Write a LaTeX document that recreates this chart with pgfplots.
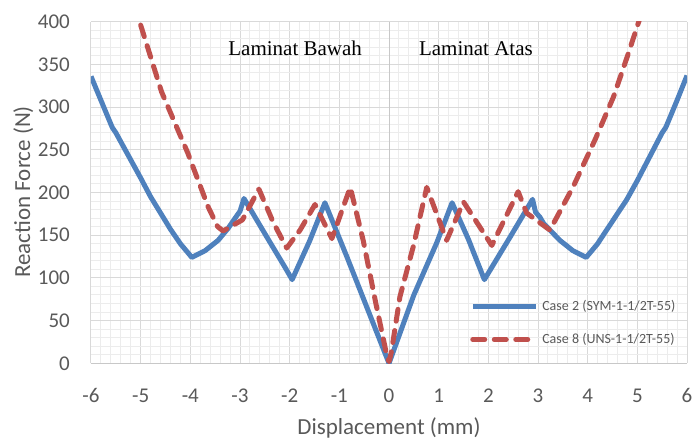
\documentclass[border=0pt]{standalone}
\usepackage{fontspec}
\setmainfont{Carlito}
\newfontfamily\timesfont{Liberation Serif}
\usepackage{pgfplots}
\pgfplotsset{compat=1.18}

\definecolor{xlblue}{RGB}{79,129,189}
\definecolor{xlred}{RGB}{192,80,77}
\definecolor{ticktext}{RGB}{89,89,89}
\definecolor{majgrid}{RGB}{217,217,217}
\definecolor{mingrid}{RGB}{236,236,236}
\definecolor{axline}{RGB}{200,200,200}

\begin{document}
\begin{tikzpicture}
\useasboundingbox (-91pt,-76.7pt) rectangle (605pt,363.3pt);
\begin{axis}[
    at={(0pt,0pt)}, anchor=south west,
    scale only axis,
    width=596pt, height=341.6pt,
    xmin=-6, xmax=6, ymin=0, ymax=400,
    xtick={-6,-5,-4,-3,-2,-1,0,1,2,3,4,5,6},
    xticklabels={-6,-5,-4,-3,-2,-1,0,1,2,3,4,5,6},
    ytick={0,50,100,150,200,250,300,350,400},
    minor x tick num=4, minor y tick num=4,
    grid=both,
    major grid style={majgrid, line width=1pt},
    minor grid style={mingrid, line width=1pt},
    axis line style={draw=none},
    major tick length=0pt, minor tick length=0pt,
    /pgf/number format/assume math mode=true,
    tick label style={font=\fontsize{21}{21}\selectfont, text=ticktext, inner sep=0pt},
    xticklabel style={anchor=base, yshift=-39pt},
    yticklabel style={anchor=east, xshift=-21pt},
    xlabel={Displacement (mm)},
    ylabel={Reaction Force (N)},
    label style={font=\fontsize{23}{23}\selectfont, text=ticktext},
    xlabel style={at={(axis description cs:0.5,-0.207)}, anchor=base},
    ylabel style={at={(axis description cs:-0.102,0.5015)}, anchor=base},
    legend cell align=left,
    legend image code/.code={\draw[#1] (0pt,0pt) -- (63pt,0pt);},
    legend style={at={(axis description cs:0.636,0.19)}, anchor=north west,
        draw=none, fill=none, font=\fontsize{14}{14}\selectfont, text=ticktext,
        row sep=17.3pt, inner sep=0pt,
        nodes={inner xsep=4pt}},
]

% axis lines (Excel draws the value axis at x = 0)
\draw[axline, line width=1.2pt] (axis cs:-6,0) -- (axis cs:6,0);
\draw[axline, line width=1pt] (axis cs:0,0) -- (axis cs:0,400);

% Case 2 - symmetric laminate
\addplot[xlblue, line width=5pt, line join=round] coordinates {
    (-6,336) (-5.8,308) (-5.6,280) (-5.57,276) (-5.5,270) (-5.0,217)
    (-4.8,195) (-4.4,157) (-4.2,140) (-3.97,124) (-3.7,132) (-3.44,144)
    (-3.24,158) (-3.05,174) (-3.0,178) (-2.92,193) (-2.43,145) (-2.1,113)
    (-1.95,98) (-1.6,143) (-1.29,188) (-0.85,125) (0,0)
    (0.5,80) (0.96,141) (1.27,188) (1.6,145) (1.92,98) (2.44,148)
    (2.89,192) (2.95,177) (3.04,171) (3.11,164) (3.44,144) (3.7,132)
    (3.97,124) (4.2,140) (4.38,156) (4.78,191) (5.0,214) (5.5,270)
    (5.57,276) (5.6,280) (5.8,308) (6,337)
};
\addlegendentry{Case 2 (SYM-1-1/2T-55)}

% Case 8 - unsymmetric laminate
\addplot[xlred, line width=5pt, line cap=round, line join=round,
    dash pattern=on 12pt off 9.5pt] coordinates {
    (-5.0,396) (-4.58,318) (-4.05,246) (-3.64,183) (-3.45,160) (-3.34,155)
    (-2.95,168) (-2.62,204) (-2.33,165) (-2.06,135) (-1.79,156) (-1.49,186)
    (-1.15,146) (-0.78,206) (-0.52,144) (-0.25,66) (-0.04,8) (0,2)
    (0.05,14) (0.22,78) (0.49,137) (0.76,206) (1.16,144) (1.5,189)
    (2.07,138) (2.6,201) (2.77,176) (3.24,156) (3.71,207) (4.15,262)
    (4.52,312) (4.82,363) (5.04,402)
};
\addlegendentry{Case 8 (UNS-1-1/2T-55)}

\node[font=\timesfont\fontsize{21}{21}\selectfont] at (axis cs:-1.89,369) {Laminat Bawah};
\node[font=\timesfont\fontsize{21}{21}\selectfont] at (axis cs:1.75,369) {Laminat Atas};
\end{axis}
\end{tikzpicture}
\end{document}
